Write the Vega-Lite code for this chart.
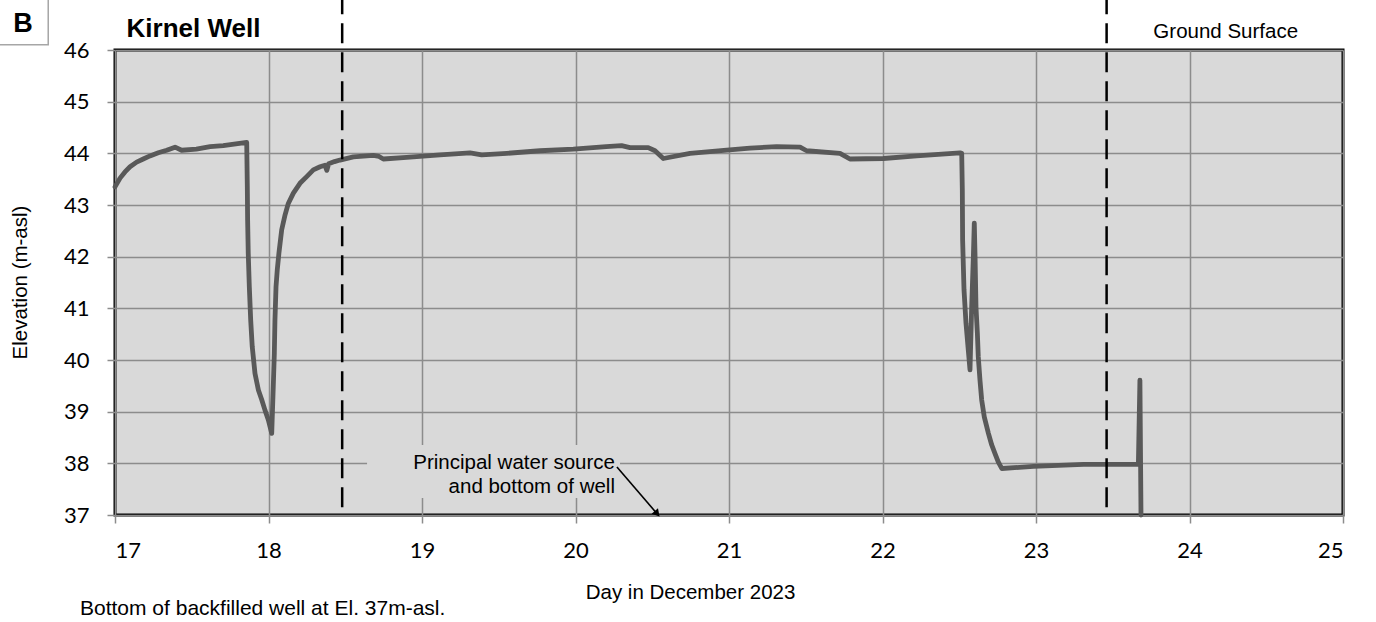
{
  "$schema": "https://vega.github.io/schema/vega-lite/v6.json",
  "autosize": {"type": "none"},
  "padding": {"left": 115, "top": 50, "right": 33, "bottom": 107},
  "width": 1228,
  "height": 465,
  "background": "white",
  "config": {
    "view": {"fill": "#d9d9d9", "stroke": "#000000", "strokeWidth": 3},
    "axis": {"domain": false}
  },
  "encoding": {
    "x": {"type": "quantitative", "scale": {"domain": [17, 25], "nice": false, "zero": false}},
    "y": {"type": "quantitative", "scale": {"domain": [37, 46], "nice": false, "zero": false}}
  },
  "layer": [
    {
      "data": {"values": [{"day": 18.642, "day2": 20.29, "elev": 37.33, "elev2": 38.355}]},
      "mark": {"type": "rect", "fill": "#d9d9d9", "stroke": null},
      "encoding": {
        "x": {"field": "day", "type": "quantitative"},
        "x2": {"field": "day2"},
        "y": {"field": "elev", "type": "quantitative"},
        "y2": {"field": "elev2"}
      }
    },
    {
      "data": {"values": [
        {"day": 17.0, "elev": 43.35},
        {"day": 17.033, "elev": 43.52},
        {"day": 17.065, "elev": 43.64},
        {"day": 17.098, "elev": 43.74},
        {"day": 17.141, "elev": 43.83},
        {"day": 17.184, "elev": 43.89},
        {"day": 17.228, "elev": 43.95},
        {"day": 17.282, "elev": 44.01},
        {"day": 17.337, "elev": 44.06},
        {"day": 17.391, "elev": 44.12},
        {"day": 17.434, "elev": 44.06},
        {"day": 17.53, "elev": 44.08},
        {"day": 17.62, "elev": 44.13},
        {"day": 17.705, "elev": 44.15},
        {"day": 17.858, "elev": 44.21},
        {"day": 17.862, "elev": 43.35},
        {"day": 17.864, "elev": 42.71},
        {"day": 17.868, "elev": 42.07},
        {"day": 17.875, "elev": 41.42},
        {"day": 17.884, "elev": 40.77},
        {"day": 17.894, "elev": 40.26},
        {"day": 17.912, "elev": 39.74},
        {"day": 17.934, "elev": 39.42},
        {"day": 17.956, "elev": 39.23},
        {"day": 17.977, "elev": 39.03},
        {"day": 17.999, "elev": 38.84},
        {"day": 18.021, "elev": 38.58},
        {"day": 18.031, "elev": 39.48},
        {"day": 18.038, "elev": 40.13},
        {"day": 18.042, "elev": 40.77},
        {"day": 18.049, "elev": 41.42},
        {"day": 18.057, "elev": 41.74},
        {"day": 18.068, "elev": 42.07},
        {"day": 18.086, "elev": 42.52},
        {"day": 18.108, "elev": 42.81},
        {"day": 18.129, "elev": 43.03},
        {"day": 18.162, "elev": 43.23},
        {"day": 18.205, "elev": 43.42},
        {"day": 18.249, "elev": 43.55},
        {"day": 18.292, "elev": 43.68},
        {"day": 18.336, "elev": 43.74},
        {"day": 18.368, "elev": 43.77},
        {"day": 18.38, "elev": 43.67},
        {"day": 18.392, "elev": 43.8},
        {"day": 18.43, "elev": 43.84},
        {"day": 18.466, "elev": 43.87},
        {"day": 18.553, "elev": 43.93},
        {"day": 18.683, "elev": 43.96},
        {"day": 18.72, "elev": 43.94},
        {"day": 18.748, "elev": 43.89},
        {"day": 18.9, "elev": 43.92},
        {"day": 19.117, "elev": 43.97},
        {"day": 19.313, "elev": 44.01},
        {"day": 19.389, "elev": 43.97},
        {"day": 19.552, "elev": 44.0},
        {"day": 19.769, "elev": 44.05},
        {"day": 19.986, "elev": 44.08},
        {"day": 20.2, "elev": 44.13},
        {"day": 20.3, "elev": 44.15},
        {"day": 20.355, "elev": 44.11},
        {"day": 20.474, "elev": 44.11},
        {"day": 20.518, "elev": 44.05},
        {"day": 20.572, "elev": 43.9},
        {"day": 20.746, "elev": 44.0},
        {"day": 20.985, "elev": 44.06},
        {"day": 21.137, "elev": 44.1},
        {"day": 21.31, "elev": 44.13},
        {"day": 21.463, "elev": 44.12},
        {"day": 21.506, "elev": 44.05},
        {"day": 21.723, "elev": 44.0},
        {"day": 21.788, "elev": 43.89},
        {"day": 22.005, "elev": 43.9},
        {"day": 22.222, "elev": 43.95},
        {"day": 22.505, "elev": 44.01},
        {"day": 22.516, "elev": 44.0},
        {"day": 22.52, "elev": 43.29},
        {"day": 22.522, "elev": 42.32},
        {"day": 22.531, "elev": 41.36},
        {"day": 22.544, "elev": 40.71},
        {"day": 22.559, "elev": 40.19},
        {"day": 22.57, "elev": 39.81},
        {"day": 22.581, "elev": 41.03},
        {"day": 22.592, "elev": 42.0},
        {"day": 22.598, "elev": 42.65},
        {"day": 22.603, "elev": 42.0},
        {"day": 22.609, "elev": 41.03},
        {"day": 22.618, "elev": 40.52},
        {"day": 22.624, "elev": 40.06},
        {"day": 22.635, "elev": 39.61},
        {"day": 22.646, "elev": 39.23},
        {"day": 22.663, "elev": 38.9},
        {"day": 22.69, "elev": 38.58},
        {"day": 22.711, "elev": 38.36},
        {"day": 22.733, "elev": 38.19},
        {"day": 22.754, "elev": 38.03},
        {"day": 22.777, "elev": 37.9},
        {"day": 22.983, "elev": 37.94},
        {"day": 23.309, "elev": 37.98},
        {"day": 23.667, "elev": 37.98},
        {"day": 23.677, "elev": 39.61},
        {"day": 23.684, "elev": 37.0}
      ]},
      "mark": {"type": "line", "color": "#595959", "strokeWidth": 4.8, "strokeCap": "round", "strokeJoin": "round"},
      "encoding": {
        "x": {
          "field": "day", "type": "quantitative",
          "axis": {
            "values": [17, 18, 19, 20, 21, 22, 23, 24, 25], "format": "d",
            "grid": true, "gridColor": "#8c8c8c", "gridWidth": 1.5,
            "tickColor": "#8c8c8c", "tickSize": 8, "tickWidth": 1.5,
            "labelFont": "Lato", "labelFontSize": 22, "labelColor": "#000000", "labelPadding": 17,
            "title": "Day in December 2023", "titleFont": "Liberation Sans", "titleFontSize": 20.5,
            "titleFontWeight": "normal", "titleColor": "#000000",
            "titleX": 575, "titleY": 83, "titleAlign": "center", "titleBaseline": "alphabetic"
          }
        },
        "y": {
          "field": "elev", "type": "quantitative",
          "axis": {
            "values": [37, 38, 39, 40, 41, 42, 43, 44, 45, 46],
            "grid": true, "gridColor": "#8c8c8c", "gridWidth": 1.5,
            "tickColor": "#8c8c8c", "tickSize": 8, "tickWidth": 1.5,
            "labelFont": "Lato", "labelFontSize": 22, "labelColor": "#000000", "labelPadding": 18,
            "title": "Elevation (m-asl)", "titleFont": "Liberation Sans", "titleFontSize": 20.5,
            "titleFontWeight": "normal", "titleColor": "#000000",
            "titleX": -89, "titleY": 232, "titleAngle": -90, "titleAlign": "center", "titleBaseline": "alphabetic"
          }
        }
      }
    },
    {
      "data": {"values": [{"day": 18.48, "elev": 37.15, "elev2": 46.97}, {"day": 23.46, "elev": 37.15, "elev2": 46.97}]},
      "mark": {"type": "rule", "color": "#000000", "strokeWidth": 2.5, "strokeDash": [20, 9]},
      "encoding": {
        "x": {"field": "day", "type": "quantitative"},
        "y": {"field": "elev", "type": "quantitative"},
        "y2": {"field": "elev2"}
      }
    },
    {
      "data": {"values": [{"day": 20.27, "elev": 37.93, "day2": 20.527, "elev2": 37.04}]},
      "mark": {"type": "rule", "color": "#000000", "strokeWidth": 1.6},
      "encoding": {
        "x": {"field": "day", "type": "quantitative"},
        "y": {"field": "elev", "type": "quantitative"},
        "x2": {"field": "day2"},
        "y2": {"field": "elev2"}
      }
    },
    {
      "data": {"values": [{"day": 20.527, "elev": 37.04}]},
      "mark": {"type": "point", "shape": "triangle", "angle": 139, "filled": true, "color": "#000000", "size": 70, "opacity": 1},
      "encoding": {
        "x": {"field": "day", "type": "quantitative"},
        "y": {"field": "elev", "type": "quantitative"}
      }
    },
    {
      "data": {"values": [
        {"day": 20.257, "elev": 37.885, "label": "Principal water source"},
        {"day": 20.257, "elev": 37.432, "label": "and bottom of well"}
      ]},
      "mark": {"type": "text", "font": "Liberation Sans", "fontSize": 20.5, "align": "right", "baseline": "alphabetic", "color": "#000000"},
      "encoding": {
        "x": {"field": "day", "type": "quantitative"},
        "y": {"field": "elev", "type": "quantitative"},
        "text": {"field": "label"}
      }
    },
    {
      "data": {"values": [{"day": 24.236, "elev": 46.226, "label": "Ground Surface"}]},
      "mark": {"type": "text", "font": "Liberation Sans", "fontSize": 20.5, "align": "center", "baseline": "alphabetic", "color": "#000000"},
      "encoding": {
        "x": {"field": "day", "type": "quantitative"},
        "y": {"field": "elev", "type": "quantitative"},
        "text": {"field": "label"}
      }
    },
    {
      "data": {"values": [{"day": 17.075, "elev": 46.246, "label": "Kirnel Well"}]},
      "mark": {"type": "text", "font": "Liberation Sans", "fontSize": 26, "fontWeight": "bold", "align": "left", "baseline": "alphabetic", "color": "#000000"},
      "encoding": {
        "x": {"field": "day", "type": "quantitative"},
        "y": {"field": "elev", "type": "quantitative"},
        "text": {"field": "label"}
      }
    },
    {
      "data": {"values": [{"day": 16.772, "elev": 35.06, "label": "Bottom of backfilled well at El. 37m-asl."}]},
      "mark": {"type": "text", "font": "Liberation Sans", "fontSize": 21, "align": "left", "baseline": "alphabetic", "color": "#000000"},
      "encoding": {
        "x": {"field": "day", "type": "quantitative"},
        "y": {"field": "elev", "type": "quantitative"},
        "text": {"field": "label"}
      }
    },
    {
      "data": {"values": [{"day": 16.2, "day2": 16.565, "elev": 46.1, "elev2": 47.2}]},
      "mark": {"type": "rect", "fill": "#ffffff", "stroke": "#a6a6a6", "strokeWidth": 1.5},
      "encoding": {
        "x": {"field": "day", "type": "quantitative"},
        "x2": {"field": "day2"},
        "y": {"field": "elev", "type": "quantitative"},
        "y2": {"field": "elev2"}
      }
    },
    {
      "data": {"values": [{"day": 16.4, "elev": 46.348, "label": "B"}]},
      "mark": {"type": "text", "font": "Liberation Sans", "fontSize": 27, "fontWeight": "bold", "align": "center", "baseline": "alphabetic", "color": "#000000"},
      "encoding": {
        "x": {"field": "day", "type": "quantitative"},
        "y": {"field": "elev", "type": "quantitative"},
        "text": {"field": "label"}
      }
    }
  ]
}
